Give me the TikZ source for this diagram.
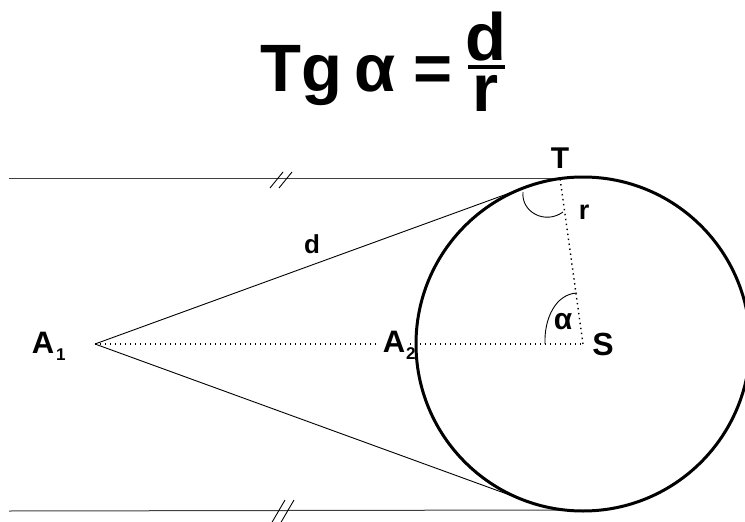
\documentclass[tikz,border=0pt]{standalone}
\usepackage{fontspec}
\setmainfont{Liberation Sans}
\begin{document}
\begin{tikzpicture}[x=1pt,y=-1pt,
  lbl/.style={font=\bfseries\fontsize{31}{37}\selectfont, inner sep=0pt},
  sub/.style={font=\bfseries\fontsize{17}{20}\selectfont, inner sep=0pt},
  big/.style={font=\bfseries\fontsize{67}{80}\selectfont, inner sep=0pt},
  thinline/.style={line width=0.9pt},
  guide/.style={line width=1pt, black!75},
  dotline/.style={line width=1.4pt, dash pattern=on 1.4pt off 3.6pt},
  heavy/.style={line width=3pt}]
\useasboundingbox (0,0) rectangle (745,522);
\clip (0,0) rectangle (745,522);
% key points
\coordinate (S) at (583,344);
\coordinate (A1) at (95,344);
\coordinate (T) at (560,178);
\coordinate (B) at (560,510);
\coordinate (P) at (525.9,187.1);
\coordinate (Q) at (525.9,500.9);
\coordinate (L1) at (9,178);
\coordinate (L2) at (9,511);
% title
\node[big, anchor=base west] (tg) at (260,91) {Tg};
\node[big, anchor=base west] (alpha) at (354,91) {α};
\node[big, anchor=base west] (eq) at (413,91) {=};
\node[big, anchor=base] (num) at (486,60) {d};
\node[big, anchor=base] (den) at (486,111) {r};
\coordinate (barL) at (468,67);
\coordinate (barR) at (505,67);
\draw[line width=4pt] (barL) -- (barR);
% parallel lines with marks
\draw[guide] (L1) -- (T);
\draw[guide] (L2) -- (B);
\coordinate (m1a) at (270,188); \coordinate (m1b) at (283,172);
\coordinate (m2a) at (279,188); \coordinate (m2b) at (292,172);
\coordinate (m3a) at (271,524); \coordinate (m3b) at (285,500);
\coordinate (m4a) at (280,524); \coordinate (m4b) at (294,500);
\draw[thinline] (m1a) -- (m1b);
\draw[thinline] (m2a) -- (m2b);
\draw[thinline] (m3a) -- (m3b);
\draw[thinline] (m4a) -- (m4b);
% dotted lines
\draw[dotline] (A1) -- (S);
\draw[dotline] (S) -- (T);
% tangents
\draw[thinline] (A1) -- (P);
\draw[thinline] (A1) -- (Q);
% circle
\node[circle, draw, heavy, minimum size=334pt, inner sep=0pt] (circ) at (S) {};
% angle arcs
\coordinate (sa1) at (545,344);
\coordinate (sa2) at (577,293);
\draw[thinline] (sa1) .. controls (544,318) and (556,294) .. (sa2);
\coordinate (ta1) at (523,192);
\coordinate (ta2) at (563,212);
\draw[thinline] (ta1) .. controls (521,212) and (545,225) .. (ta2);
% labels
\node[lbl, font=\bfseries\fontsize{30}{36}\selectfont] (Tl) at (560,158) {T};
\node[lbl, font=\bfseries\fontsize{27}{32}\selectfont] (rl) at (584,212) {r};
\node[lbl, font=\bfseries\fontsize{26}{31}\selectfont] (dl) at (312,244) {d};
\node[lbl, font=\bfseries\fontsize{30}{36}\selectfont] (al) at (563,322) {α};
\node[lbl, font=\bfseries\fontsize{32}{38}\selectfont] (Sl) at (603,344) {S};
\node[lbl, anchor=base] (A1l) at (43,353) {A};
\node[sub, anchor=base west] (A1s) at (56,360) {1};
\node[lbl, anchor=base, fill=white, inner xsep=3pt] (A2l) at (394,352) {A};
\node[sub, anchor=base west] (A2s) at (406,359) {2};
\end{tikzpicture}
\end{document}
